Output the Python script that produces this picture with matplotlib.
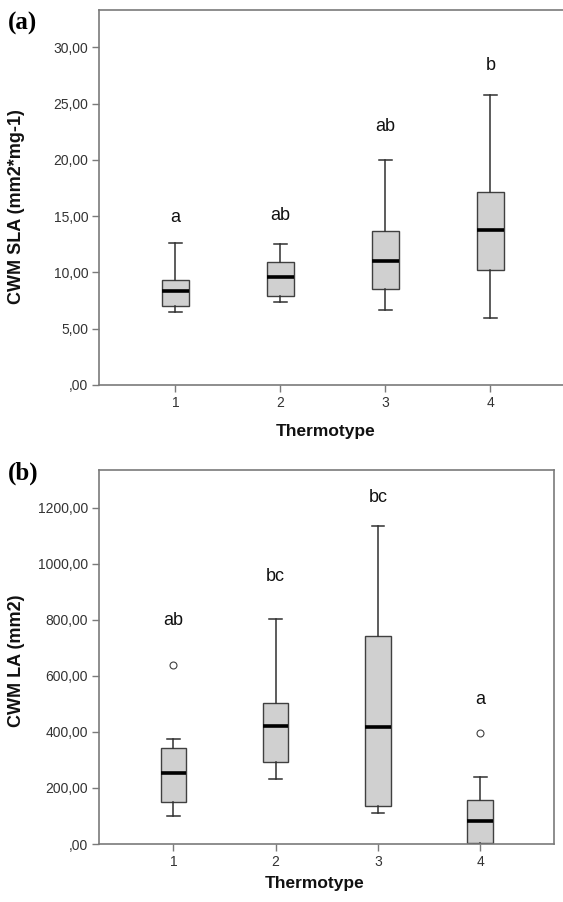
import matplotlib
matplotlib.use("Agg")
import matplotlib.pyplot as plt
from matplotlib.ticker import FixedLocator, FixedFormatter

plt.rcParams['font.family'] = ['Liberation Sans', 'DejaVu Sans']

# thermotype groups
groups = [1, 2, 3, 4]

# (a) CWM SLA
sla_whislo = [6.45, 7.35, 6.65, 5.95]
sla_q1 = [7.0, 7.95, 8.5, 10.2]
sla_med = [8.35, 9.6, 11.0, 13.75]
sla_q3 = [9.35, 10.9, 13.7, 17.15]
sla_whishi = [12.6, 12.55, 20.0, 25.8]
sla_fliers = [[], [], [], []]
sla_letters = ['a', 'ab', 'ab', 'b']
sla_letter_y = [14.9, 15.1, 23.0, 28.4]
sla_ticks = [0, 5, 10, 15, 20, 25, 30]
sla_ticklabels = [',00', '5,00', '10,00', '15,00', '20,00', '25,00', '30,00']

# (b) CWM LA
la_whislo = [100, 231, 110, 1]
la_q1 = [151, 291, 134, 5]
la_med = [252, 422, 419, 82]
la_q3 = [342, 503, 742, 156]
la_whishi = [376, 803, 1135, 239]
la_fliers = [[637], [], [], [395]]
la_letters = ['ab', 'bc', 'bc', 'a']
la_letter_y = [796, 954, 1235, 517]
la_ticks = [0, 200, 400, 600, 800, 1000, 1200]
la_ticklabels = [',00', '200,00', '400,00', '600,00', '800,00', '1000,00', '1200,00']

spine_col = '#7a7a7a'
txt_col = '#333333'


def panel(ax, lo, q1, med, q3, hi, fl, letters, ly, ticks, tlabels, ymax, ylabel, ylab_pos, xlab_pos):
    stats = []
    for i in range(len(groups)):
        stats.append(dict(whislo=lo[i], q1=q1[i], med=med[i], q3=q3[i], whishi=hi[i], fliers=fl[i]))
    ax.bxp(stats, positions=groups, widths=0.25, patch_artist=True,
           boxprops=dict(facecolor='#d0d0d0', edgecolor='#404040', linewidth=1.0),
           medianprops=dict(color='black', linewidth=2.6),
           whiskerprops=dict(color='#303030', linewidth=1.1),
           capprops=dict(color='#303030', linewidth=1.1),
           capwidths=0.125,
           flierprops=dict(marker='o', markersize=5, markerfacecolor='white',
                           markeredgecolor='#404040', markeredgewidth=0.8))
    for g, t, y in zip(groups, letters, ly):
        ax.text(g, y, t, ha='center', va='center', fontsize=13, color='#111111')
    ax.set_xlim(0.275, 4.725)
    ax.set_ylim(0, ymax)
    ax.yaxis.set_major_locator(FixedLocator(ticks))
    ax.yaxis.set_major_formatter(FixedFormatter(tlabels))
    ax.set_xticks(groups)
    ax.set_xticklabels([str(g) for g in groups])
    ax.tick_params(direction='out', length=5, width=1, color=spine_col,
                   labelsize=10, labelcolor=txt_col, pad=3)
    for s in ax.spines.values():
        s.set_color(spine_col)
        s.set_linewidth(1.2)
    ax.set_ylabel(ylabel, fontsize=13, fontweight='bold', color='#111111')
    ax.yaxis.set_label_coords(*ylab_pos)
    ax.set_xlabel('Thermotype', fontsize=12.5, fontweight='bold', color='#111111')
    ax.xaxis.set_label_coords(*xlab_pos)


fig = plt.figure(figsize=(5.63, 9.02), dpi=100)
ax1 = fig.add_axes([0.1764, 0.5732, 0.8300, 0.4157])
ax2 = fig.add_axes([0.1764, 0.0643, 0.8081, 0.4146])

panel(ax1, sla_whislo, sla_q1, sla_med, sla_q3, sla_whishi, sla_fliers,
      sla_letters, sla_letter_y, sla_ticks, sla_ticklabels, 33.33,
      'CWM SLA (mm2*mg-1)', (-0.159, 0.477), (0.485, -0.104))
panel(ax2, la_whislo, la_q1, la_med, la_q3, la_whishi, la_fliers,
      la_letters, la_letter_y, la_ticks, la_ticklabels, 1334,
      'CWM LA (mm2)', (-0.163, 0.49), (0.474, -0.086))

fig.text(8 / 563, 1 - 23 / 902, '(a)', family='Liberation Serif', fontweight='bold',
         fontsize=18, va='center', ha='left')
fig.text(8 / 563, 1 - 473 / 902, '(b)', family='Liberation Serif', fontweight='bold',
         fontsize=18, va='center', ha='left')

fig.savefig('out.png', dpi=100)
